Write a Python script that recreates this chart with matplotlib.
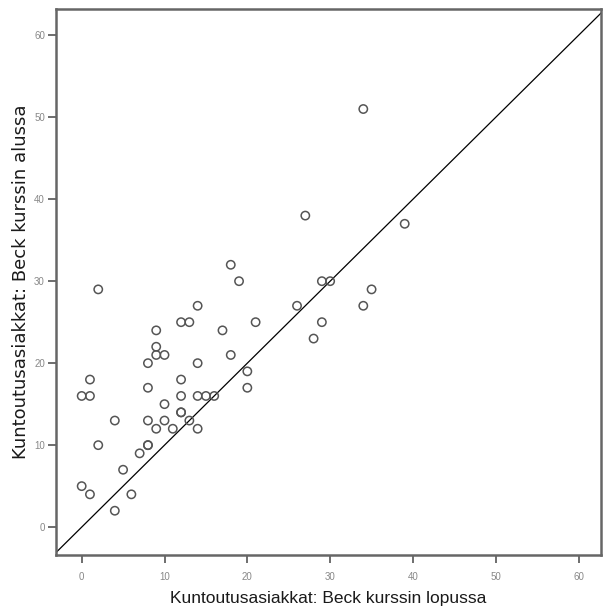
import matplotlib
matplotlib.use("Agg")
import matplotlib.pyplot as plt

x_end = [34, 27, 39, 18, 19, 29, 30, 2, 35, 26, 34, 14, 12, 13, 21, 29, 9, 17, 28, 9,
         9, 10, 18, 8, 14, 20, 1, 12, 8, 20, 0, 1, 12, 14, 15, 16, 10, 12, 12, 4,
         8, 10, 13, 9, 11, 14, 2, 8, 8, 7, 5, 0, 1, 6, 4]
y_start = [51, 38, 37, 32, 30, 30, 30, 29, 29, 27, 27, 27, 25, 25, 25, 25, 24, 24, 23, 22,
           21, 21, 21, 20, 20, 19, 18, 18, 17, 17, 16, 16, 16, 16, 16, 16, 15, 14, 14, 13,
           13, 13, 13, 12, 12, 12, 10, 10, 10, 9, 7, 5, 4, 4, 2]
ticks = [0, 10, 20, 30, 40, 50, 60]
xlabel = "Kuntoutusasiakkat: Beck kurssin lopussa"
ylabel = "Kuntoutusasiakkat: Beck kurssin alussa"

plt.rcParams['font.family'] = ['Liberation Sans', 'DejaVu Sans']
fig = plt.figure(figsize=(6.1, 6.1), dpi=100)
ax = fig.add_axes([56/610, 1 - 555/610, 545/610, 546/610])

xlim = (-3.1, 62.7)
ylim = (-3.4, 63.2)
ax.set_xlim(*xlim)
ax.set_ylim(*ylim)

ax.plot([-4, 70], [-4, 70], color='black', lw=0.9, zorder=2)
ax.scatter(x_end, y_start, s=36, facecolors='none', edgecolors='#555555', linewidths=1.1, zorder=3)

ax.set_xticks(ticks)
ax.set_yticks(ticks)
ax.set_xticklabels([str(t) for t in ticks])
ax.set_yticklabels([str(t) for t in ticks])
ax.tick_params(axis='both', direction='out', length=6, width=1.2, color='#555555',
               labelsize=7, labelcolor='#888888')
ax.tick_params(axis='x', pad=6)
ax.tick_params(axis='y', pad=2)
for sp in ax.spines.values():
    sp.set_color('#666666')
    sp.set_linewidth(1.8)

ax.set_xlabel(xlabel, fontsize=12.5, color='#1a1a1a', labelpad=7)
ax.set_ylabel(ylabel, fontsize=13, color='#1a1a1a', family=['DejaVu Sans'])
ax.yaxis.set_label_coords(-0.048, 0.5)

fig.savefig("out.png", dpi=100)
